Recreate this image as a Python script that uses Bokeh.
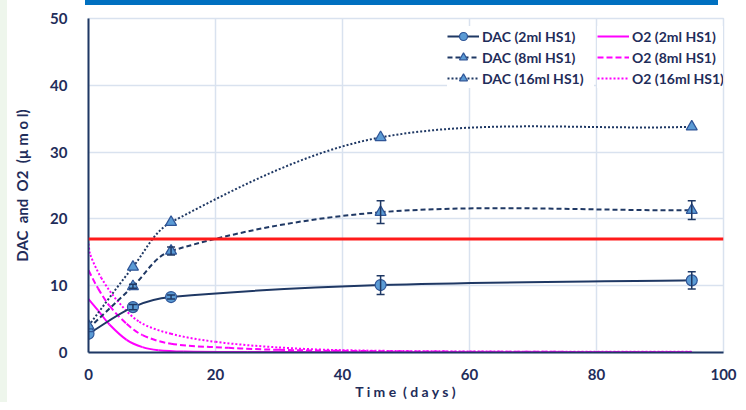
import math
from bokeh.plotting import figure
from bokeh.layouts import row, column
from bokeh.models import (ColumnDataSource, Whisker, TeeHead, Span, Legend,
                          LegendItem, FixedTicker, Range1d, Div)
from bokeh.embed import file_html
from bokeh.resources import INLINE

# ---- data ----
days = [0, 7, 13, 46, 95]
dac_2ml = [2.8, 6.8, 8.3, 10.1, 10.8]
dac_2ml_err = [0.0, 0.4, 0.3, 1.4, 1.3]
dac_8ml = [3.6, 9.9, 15.2, 21.0, 21.3]
dac_8ml_err = [0.0, 0.3, 0.6, 1.7, 1.4]
dac_16ml = [4.0, 12.8, 19.5, 32.2, 33.8]

o2_2ml_t = [0, 1.5, 3.3, 6, 8.5, 11, 15, 25, 50, 95]
o2_2ml = [8.0, 6.3, 4.2, 1.9, 0.8, 0.35, 0.15, 0.08, 0.05, 0.05]
o2_8ml_t = [0, 1.5, 3.3, 6, 8.5, 13, 22, 30, 40, 60, 95]
o2_8ml = [12.3, 9.6, 7.0, 4.3, 2.6, 1.3, 0.7, 0.4, 0.25, 0.12, 0.08]
o2_16ml_t = [0, 0.3, 2, 4.5, 8, 13, 20, 30, 40, 60, 95]
o2_16ml = [16.3, 14.6, 11.2, 7.8, 4.6, 2.8, 1.6, 0.75, 0.35, 0.15, 0.1]

threshold = 17
x_ticks = [0, 20, 40, 60, 80, 100]
y_ticks = [0, 10, 20, 30, 40, 50]

NAVY = "#1f3864"
TXT = "#1f2d5a"
MFILL = "#5b9bd5"
MLINE = "#2f5597"
MAG = "#ff00ff"
GRID = "#d9e2ef"
FONT = "Lato"
NB = "\u00a0"


def smooth(xs, ys):
    """Bezier control points for a smoothed line through the points
    (tangent = direction between neighbours, handle = 1/3 of the segment)."""
    n = len(xs)

    def unit(dx, dy):
        l = math.hypot(dx, dy) or 1.0
        return dx / l, dy / l

    tang = []
    for i in range(n):
        a = max(i - 1, 0)
        b = min(i + 1, n - 1)
        tang.append(unit(xs[b] - xs[a], ys[b] - ys[a]))
    d = dict(x0=[], y0=[], x1=[], y1=[], cx0=[], cy0=[], cx1=[], cy1=[])
    for i in range(n - 1):
        L = math.hypot(xs[i + 1] - xs[i], ys[i + 1] - ys[i]) / 3
        d["x0"].append(xs[i]); d["y0"].append(ys[i])
        d["x1"].append(xs[i + 1]); d["y1"].append(ys[i + 1])
        d["cx0"].append(xs[i] + tang[i][0] * L)
        d["cy0"].append(ys[i] + tang[i][1] * L)
        d["cx1"].append(xs[i + 1] - tang[i + 1][0] * L)
        d["cy1"].append(ys[i + 1] - tang[i + 1][1] * L)
    return ColumnDataSource(d)


p = figure(width=731, height=397, output_backend="svg", toolbar_location=None,
           x_range=Range1d(0, 100), y_range=Range1d(0, 50),
           min_border_left=81, min_border_right=15, min_border_top=13,
           min_border_bottom=50, margin=0)
p.background_fill_color = "white"
p.border_fill_color = "white"
p.outline_line_color = GRID
p.outline_line_width = 1.5

p.xaxis.ticker = FixedTicker(ticks=x_ticks)
p.yaxis.ticker = FixedTicker(ticks=y_ticks)
p.xgrid.ticker = FixedTicker(ticks=x_ticks)
p.ygrid.ticker = FixedTicker(ticks=y_ticks)
p.grid.grid_line_color = GRID
p.grid.grid_line_width = 1.5

for ax in (p.xaxis, p.yaxis):
    ax.axis_line_color = NAVY
    ax.axis_line_width = 2
    ax.major_tick_line_color = None
    ax.minor_tick_line_color = None
    ax.major_label_text_font = FONT
    ax.major_label_text_font_style = "bold"
    ax.major_label_text_font_size = "15px"
    ax.major_label_text_color = TXT
    ax.axis_label_text_font = FONT
    ax.axis_label_text_font_style = "bold"
    ax.axis_label_text_color = TXT

p.xaxis.axis_label = "T i m e " + NB + "( d a y s )"
p.xaxis.axis_label_text_font_size = "14px"
p.xaxis.major_label_standoff = 10
p.xaxis.axis_label_standoff = 0
p.yaxis.axis_label = "DAC" + NB + NB + "and" + NB + NB + "O2" + NB + NB + "(µ m o l)"
p.yaxis.axis_label_text_font_size = "15px"
p.yaxis.major_label_standoff = 15
p.yaxis.axis_label_standoff = 16

# threshold line
p.add_layout(Span(location=threshold, dimension="width", line_color="#ff1a1a",
                  line_width=3))

# O2 curves
o2_r = []
for ts, vs, dash in ((o2_2ml_t, o2_2ml, "solid"), (o2_8ml_t, o2_8ml, "6 3"),
                     (o2_16ml_t, o2_16ml, "2 2")):
    r = p.bezier(x0="x0", y0="y0", x1="x1", y1="y1", cx0="cx0", cy0="cy0",
                 cx1="cx1", cy1="cy1", source=smooth(ts, vs), line_color=MAG,
                 line_width=2, line_dash=dash)
    o2_r.append(r)

# DAC curves
dac_r = []
for vals, errs, dash, marker, size in ((dac_2ml, dac_2ml_err, "solid", "circle", 11),
                                       (dac_8ml, dac_8ml_err, "5 3", "triangle", 11),
                                       (dac_16ml, None, "2 2", "triangle", 11)):
    lr = p.bezier(x0="x0", y0="y0", x1="x1", y1="y1", cx0="cx0", cy0="cy0",
                  cx1="cx1", cy1="cy1", source=smooth(days, vals),
                  line_color=NAVY, line_width=2, line_dash=dash)
    if errs is not None:
        sel = [i for i, e in enumerate(errs) if e > 0]
        wsrc = ColumnDataSource(dict(x=[days[i] for i in sel],
                                     upper=[vals[i] + errs[i] for i in sel],
                                     lower=[vals[i] - errs[i] for i in sel]))
        w = Whisker(source=wsrc, base="x", upper="upper", lower="lower",
                    line_color=NAVY, line_width=1.5, level="glyph",
                    upper_head=TeeHead(size=8, line_color=NAVY, line_width=1.5),
                    lower_head=TeeHead(size=8, line_color=NAVY, line_width=1.5))
        p.add_layout(w)
    mr = p.scatter(days, vals, marker=marker, size=size, fill_color=MFILL,
                   line_color=MLINE, line_width=1.2)
    dac_r.append((lr, mr))

leg_common = dict(border_line_color=None, background_fill_color="white",
                  background_fill_alpha=1.0, label_text_font=FONT,
                  label_text_font_size="14px", label_text_color=TXT,
                  label_text_font_style="bold",
                  glyph_width=32, glyph_height=20, label_height=20,
                  label_standoff=3, spacing=1, padding=4, margin=0)

leg1 = Legend(items=[LegendItem(label="DAC (2ml HS1)", renderers=list(dac_r[0])),
                     LegendItem(label="DAC (8ml HS1)", renderers=list(dac_r[1])),
                     LegendItem(label="DAC (16ml HS1)", renderers=list(dac_r[2]))],
              location=(359, 264), label_width=112, **leg_common)
leg2 = Legend(items=[LegendItem(label="O2 (2ml HS1)", renderers=[o2_r[0]]),
                     LegendItem(label="O2 (8ml HS1)", renderers=[o2_r[1]]),
                     LegendItem(label="O2 (16ml HS1)", renderers=[o2_r[2]])],
              location=(509, 264), **leg_common)
p.add_layout(leg1)
p.add_layout(leg2)

# decorative slide elements: blue band above the chart, pale strip on the left
band = Div(text="", width=633, height=5, margin=(0, 0, 0, 78),
           styles={"background-color": "#0070c0"})
strip = Div(text="", width=7, height=402, margin=0,
            styles={"background-color": "#eef6ec"})
layout = row(strip, column(band, p, spacing=0), spacing=0)

open("out.html", "w").write(file_html(layout, INLINE))
